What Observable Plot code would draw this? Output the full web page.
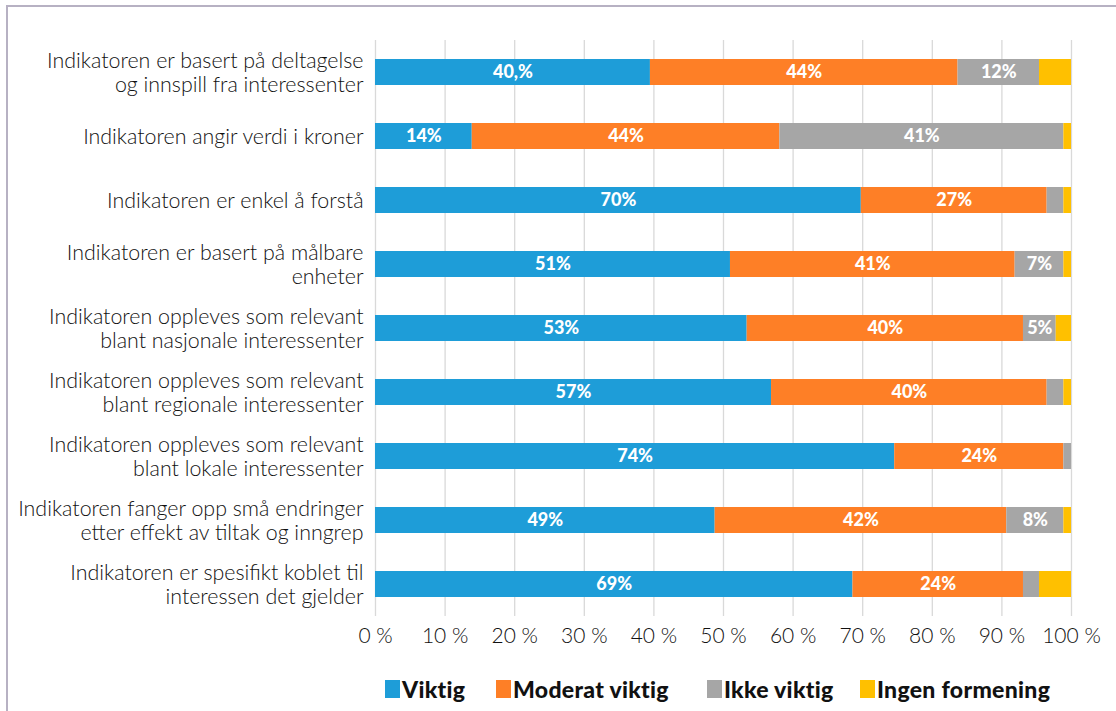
<!DOCTYPE html>
<html>
<head>
<meta charset="utf-8">
<script src="https://cdn.jsdelivr.net/npm/d3@7"></script>
<script src="https://cdn.jsdelivr.net/npm/@observablehq/plot@0.6"></script>
<style>
  html, body { margin: 0; padding: 0; background: #fff; overflow: hidden; }
  #frame { position: absolute; left: 6px; top: 5px; width: 1130px; height: 730px; border: 2px solid #b7b1c3; box-sizing: border-box; }
  #chart { position: absolute; left: 0; top: 0; }
  #legend { position: absolute; left: 0; top: 667px; width: 1100px; height: 30px; font-family: Lato, "Open Sans", sans-serif; font-weight: 900; font-size: 23px; letter-spacing: 0.3px; color: #111; }
  .item { position: absolute; top: 0; display: flex; align-items: center; height: 30px; }
  .sw { width: 15px; height: 18px; margin-right: 2px; }
</style>
</head>
<body>
<div id="frame"><div id="chart"></div><div id="legend"></div></div>
<script>
const questions = [
  "Indikatoren er basert på deltagelse og innspill fra interessenter",
  "Indikatoren angir verdi i kroner",
  "Indikatoren er enkel å forstå",
  "Indikatoren er basert på målbare enheter",
  "Indikatoren oppleves som relevant blant nasjonale interessenter",
  "Indikatoren oppleves som relevant blant regionale interessenter",
  "Indikatoren oppleves som relevant blant lokale interessenter",
  "Indikatoren fanger opp små endringer etter effekt av tiltak og inngrep",
  "Indikatoren er spesifikt koblet til interessen det gjelder"
];
const questionLabels = [
  "Indikatoren er basert på deltagelse\nog innspill fra interessenter",
  "Indikatoren angir verdi i kroner",
  "Indikatoren er enkel å forstå",
  "Indikatoren er basert på målbare\nenheter",
  "Indikatoren oppleves som relevant\nblant nasjonale interessenter",
  "Indikatoren oppleves som relevant\nblant regionale interessenter",
  "Indikatoren oppleves som relevant\nblant lokale interessenter",
  "Indikatoren fanger opp små endringer\netter effekt av tiltak og inngrep",
  "Indikatoren er spesifikt koblet til\ninteressen det gjelder"
];
const seriesNames = ["Viktig", "Moderat viktig", "Ikke viktig", "Ingen formening"];
const seriesColors = ["#1e9dd8", "#fe7f26", "#a6a6a6", "#ffc000"];

const viktig   = [39.5, 13.9, 69.8, 51.0, 53.4, 56.9, 74.6, 48.8, 68.6];
const moderat  = [44.2, 44.2, 26.7, 40.9, 39.7, 39.6, 24.3, 41.9, 24.5];
const ikke     = [11.7, 40.8, 2.4, 7.0, 4.7, 2.4, 1.1, 8.2, 2.3];
const ingen    = [4.6, 1.1, 1.1, 1.1, 2.2, 1.1, 0.0, 1.1, 4.6];

const viktigLabels  = ["40,%", "14%", "70%", "51%", "53%", "57%", "74%", "49%", "69%"];
const moderatLabels = ["44%", "44%", "27%", "41%", "40%", "40%", "24%", "42%", "24%"];
const ikkeLabels    = ["12%", "41%", "", "7%", "5%", "", "", "8%", ""];
const ingenLabels   = ["", "", "", "", "", "", "", "", ""];

const xTicks = [0, 10, 20, 30, 40, 50, 60, 70, 80, 90, 100];
const xTickLabels = ["0 %", "10 %", "20 %", "30 %", "40 %", "50 %", "60 %", "70 %", "80 %", "90 %", "100 %"];

const allValues = [viktig, moderat, ikke, ingen];
const allLabels = [viktigLabels, moderatLabels, ikkeLabels, ingenLabels];
const data = [];
seriesNames.forEach((s, si) => {
  questions.forEach((q, qi) => {
    data.push({question: q, series: s, value: allValues[si][qi], label: allLabels[si][qi]});
  });
});

const chart = Plot.plot({
  width: 1100,
  height: 650,
  marginLeft: 367,
  marginRight: 37,
  marginTop: 33,
  marginBottom: 41,
  style: {fontFamily: "Lato, 'Open Sans', sans-serif", background: "white"},
  x: {domain: [0, 100]},
  y: {domain: questions, paddingInner: 0.594, paddingOuter: 0.297},
  color: {domain: seriesNames, range: seriesColors},
  marks: [
    Plot.gridX(xTicks, {stroke: "#d9d9d9", strokeOpacity: 1, strokeWidth: 1.3}),
    Plot.barX(data, Plot.stackX({x: "value", y: "question", z: "series", fill: "series", order: seriesNames})),
    Plot.text(data, Plot.stackX({x: "value", y: "question", z: "series", order: seriesNames, text: "label", fill: "white", fontWeight: 900, fontSize: 18})),
    Plot.axisX({ticks: xTicks, tickFormat: (d, i) => xTickLabels[i], tickSize: 0, tickPadding: 12, fontSize: 21, fontWeight: 300, fill: "#111", label: null}),
    Plot.axisY({tickFormat: (d, i) => questionLabels[questions.indexOf(d)], tickSize: 0, tickPadding: 12, fontSize: 21.4, fontWeight: 300, lineHeight: 1.13, fill: "#111", label: null})
  ]
});
document.getElementById("chart").appendChild(chart);

const legendX = [377, 488, 699, 852];
const legend = document.getElementById("legend");
seriesNames.forEach((s, i) => {
  const it = document.createElement("div");
  it.className = "item";
  it.style.left = legendX[i] + "px";
  const sw = document.createElement("div");
  sw.className = "sw";
  sw.style.background = seriesColors[i];
  const t = document.createElement("span");
  t.textContent = s;
  it.appendChild(sw); it.appendChild(t);
  legend.appendChild(it);
});
</script>
</body>
</html>
